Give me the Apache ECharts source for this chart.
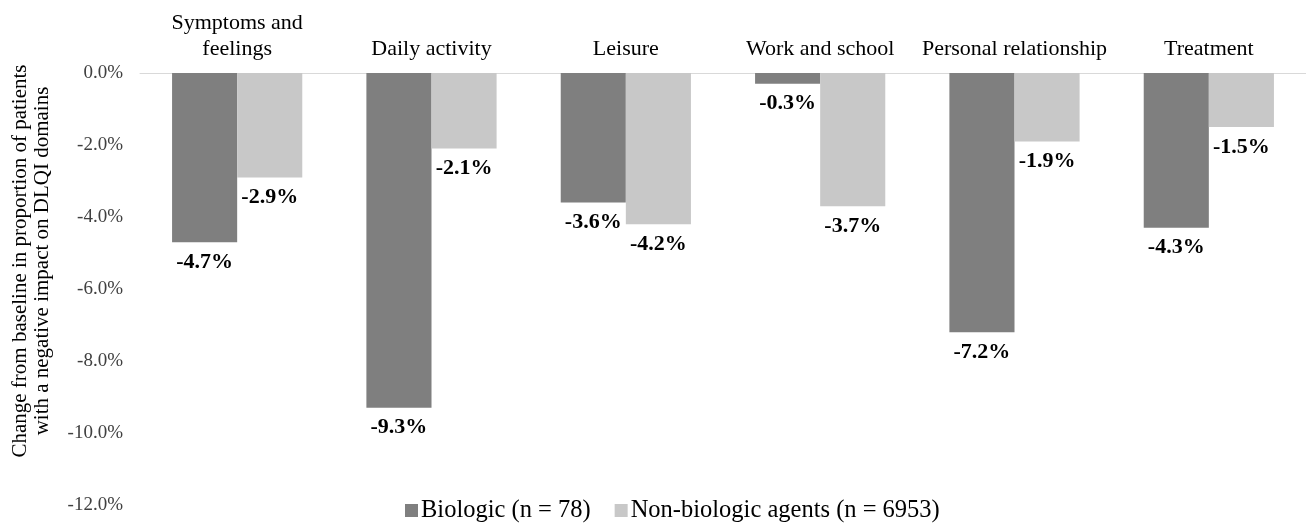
<!DOCTYPE html>
<html>
<head>
<meta charset="utf-8">
<script src="https://cdn.jsdelivr.net/npm/echarts@6/dist/echarts.min.js"></script>
<style>
  html, body { margin: 0; padding: 0; background: #fff; }
  #chart { width: 1306px; height: 524px; }
</style>
</head>
<body>
<div id="chart"></div>
<script>
// domains (shown along the top)
const categories = [
  "Symptoms and\nfeelings",
  "Daily activity",
  "Leisure",
  "Work and school",
  "Personal relationship",
  "Treatment"
];

// change from baseline, %
const biologic = [-4.7, -9.3, -3.6, -0.3, -7.2, -4.3];
const nonBiologic = [-2.9, -2.1, -4.2, -3.7, -1.9, -1.5];

const seriesNames = ["Biologic (n = 78)", "Non-biologic agents (n = 6953)"];
const seriesColors = ["#7f7f7f", "#c8c8c8"];

const yMin = -12;
const yMax = 0;
const yStep = 2;

const font = "'Liberation Serif', 'Times New Roman', serif";

const chart = echarts.init(document.getElementById("chart"));

const labelStyle = {
  show: true,
  position: "bottom",
  distance: 9,
  fontFamily: font,
  fontSize: 22,
  fontWeight: "bold",
  color: "#000",
  formatter: p => p.value.toFixed(1) + "%"
};

chart.setOption({
  animation: false,
  textStyle: { fontFamily: font },
  grid: {
    left: 140,
    right: 0,
    top: 73,
    bottom: 19,
    outerBoundsMode: "none"
  },
  legend: {
    data: seriesNames,
    left: 400,
    bottom: -4,
    itemWidth: 13,
    itemHeight: 13,
    itemGap: 24,
    icon: "rect",
    textStyle: {
      fontFamily: font,
      fontSize: 24.5,
      color: "#000",
      padding: [0, 0, 0, -2]
    }
  },
  xAxis: {
    type: "category",
    position: "top",
    data: categories,
    axisTick: { show: false },
    axisLine: { show: true, lineStyle: { color: "#d9d9d9", width: 1 } },
    axisLabel: {
      interval: 0,
      margin: 11,
      fontFamily: font,
      fontSize: 22,
      lineHeight: 26,
      color: "#000"
    }
  },
  yAxis: {
    type: "value",
    min: yMin,
    max: yMax,
    interval: yStep,
    name: "Change from baseline in proportion of patients\nwith a negative impact on DLQI domains",
    nameLocation: "middle",
    nameGap: 87,
    nameTextStyle: {
      fontFamily: font,
      fontSize: 21,
      lineHeight: 22,
      color: "#000",
      padding: [0, 0, 0, 56]
    },
    axisLine: { show: false },
    axisTick: { show: false },
    splitLine: { show: false },
    axisLabel: {
      margin: 17,
      fontFamily: font,
      fontSize: 19,
      color: "#404040",
      formatter: v => v.toFixed(1) + "%"
    }
  },
  series: [
    {
      name: seriesNames[0],
      type: "bar",
      data: biologic,
      itemStyle: { color: seriesColors[0] },
      barGap: "0%",
      barCategoryGap: "33%",
      label: labelStyle
    },
    {
      name: seriesNames[1],
      type: "bar",
      data: nonBiologic,
      itemStyle: { color: seriesColors[1] },
      barGap: "0%",
      barCategoryGap: "33%",
      label: labelStyle
    }
  ]
});
</script>
</body>
</html>
